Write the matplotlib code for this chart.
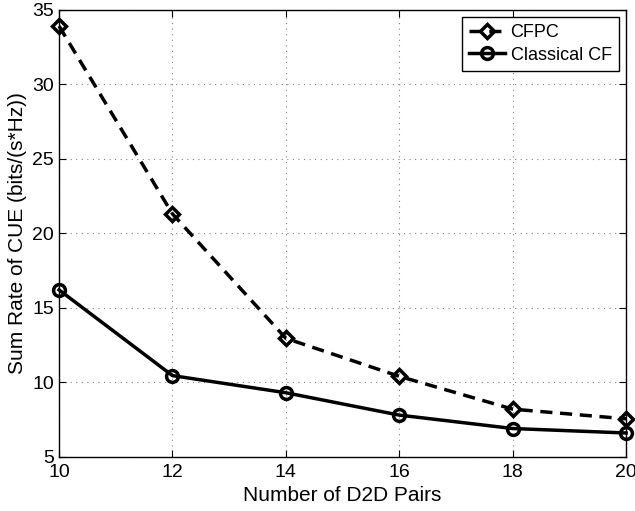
import matplotlib.pyplot as plt

pairs = [10, 12, 14, 16, 18, 20]
cfpc = [33.9, 21.3, 12.95, 10.4, 8.2, 7.55]
classical_cf = [16.2, 10.45, 9.3, 7.8, 6.9, 6.6]

plt.rcParams['font.family'] = ['Liberation Sans', 'DejaVu Sans']

fig = plt.figure(figsize=(6.35, 5.11), dpi=100)
ax = fig.add_axes([0.093, 0.106, 0.893, 0.875])

ax.plot(pairs, cfpc, color='black', linestyle=(0, (3.5, 2.2)), linewidth=2.5,
        marker='D', markersize=7, markerfacecolor='none', markeredgewidth=2.5,
        label='CFPC', clip_on=False)
ax.plot(pairs, classical_cf, color='black', linestyle='-', linewidth=2.5,
        marker='o', markersize=8.5, markerfacecolor='none', markeredgewidth=2.5,
        label='Classical CF', clip_on=False)

ax.set_xlim(10, 20)
ax.set_ylim(5, 35)
ax.set_xticks(pairs)
ax.set_yticks([5, 10, 15, 20, 25, 30, 35])
ax.tick_params(direction='in', top=True, right=True, labelsize=14, length=5)
ax.tick_params(axis='x', pad=5)
ax.grid(True, linestyle=(0, (1, 4)), color='gray', linewidth=0.8)
for s in ax.spines.values():
    s.set_linewidth(1.0)

ax.set_xlabel('Number of D2D Pairs', fontsize=15, labelpad=4)
ax.set_ylabel('Sum Rate of CUE (bits/(s*Hz))', fontsize=15, labelpad=4)

leg = ax.legend(loc='upper right', fontsize=13, fancybox=False, framealpha=1,
                edgecolor='black', handlelength=2.0, handletextpad=0.3,
                borderaxespad=0.4, labelspacing=0.3)
leg.get_frame().set_linewidth(1.0)

plt.savefig('out.png', dpi=100)
